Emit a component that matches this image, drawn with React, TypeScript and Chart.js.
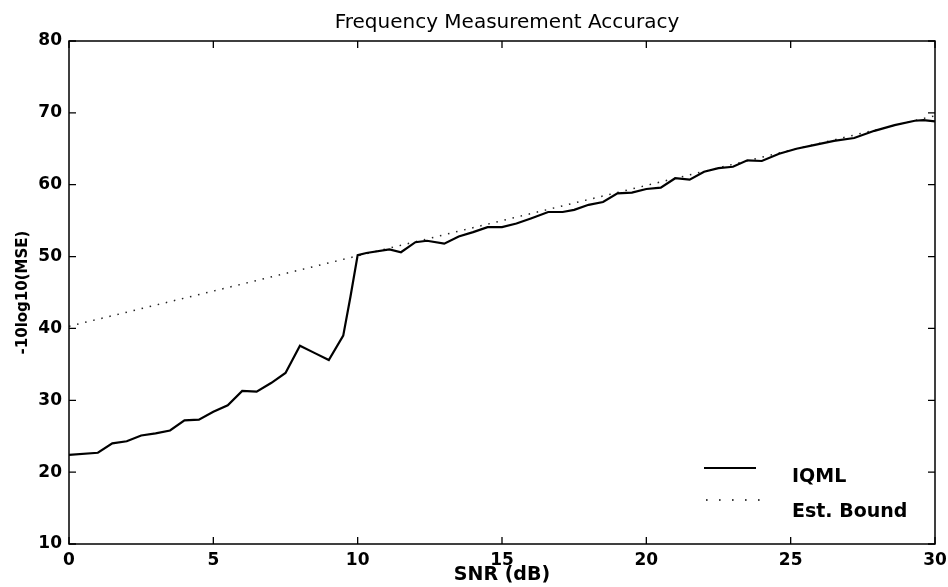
import React, { useEffect, useRef } from 'react';
import { Chart, registerables } from 'chart.js';

Chart.register(...registerables);

const TITLE = 'Frequency Measurement Accuracy';
const X_LABEL = 'SNR (dB)';
const Y_LABEL = '-10log10(MSE)';
const SERIES_NAMES = ['IQML', 'Est. Bound'];
const X_TICKS = [0, 5, 10, 15, 20, 25, 30];
const Y_TICKS = [10, 20, 30, 40, 50, 60, 70, 80];

const IQML_SNR = [
  0, 1.0, 1.5, 2.0, 2.5, 3.0, 3.5, 4.0, 4.5, 5.0, 5.5, 6.0, 6.5, 7.0, 7.5, 8.0, 8.5, 9.0, 9.5, 9.75,
  10.0, 10.3, 11.1, 11.5, 12.0, 12.4, 13.0, 13.5, 14.0, 14.5, 15.0, 15.5, 16.0, 16.6, 17.1, 17.5,
  18.0, 18.5, 19.0, 19.5, 20.0, 20.5, 21.0, 21.5, 22.0, 22.5, 23.0, 23.5, 24.0, 24.6, 25.2, 25.8,
  26.5, 27.2, 27.9, 28.6, 29.3, 29.6, 30.0,
];
const IQML_VAL = [
  22.4, 22.7, 24.0, 24.3, 25.1, 25.4, 25.8, 27.2, 27.3, 28.4, 29.3, 31.3, 31.2, 32.4, 33.8, 37.6, 36.6, 35.6, 39.0, 44.4,
  50.2, 50.5, 51.0, 50.6, 52.0, 52.2, 51.8, 52.8, 53.4, 54.1, 54.1, 54.6, 55.3, 56.2, 56.2, 56.5,
  57.2, 57.6, 58.8, 58.9, 59.4, 59.6, 60.9, 60.7, 61.8, 62.3, 62.5, 63.4, 63.3, 64.3, 65.0, 65.5,
  66.1, 66.5, 67.5, 68.3, 68.9, 69.0, 68.8,
];

const BOUND_SNR = [0, 5, 10, 15, 20, 25, 30];
const BOUND_VAL = [40.3, 45.2, 50.1, 55.0, 59.9, 64.8, 69.6];

const FONT = 'DejaVu Sans';

const framePlugin = {
  id: 'matlabFrame',
  afterDatasetsDraw(chart: any) {
    const { ctx, chartArea } = chart;
    const { left, right, top, bottom } = chartArea;
    const xs = chart.scales.x;
    const ys = chart.scales.y;
    const tl = 7;
    ctx.save();
    ctx.strokeStyle = '#000';
    ctx.lineWidth = 1.5;
    ctx.strokeRect(left, top, right - left, bottom - top);
    ctx.lineWidth = 1.3;
    ctx.beginPath();
    X_TICKS.forEach((v) => {
      const px = xs.getPixelForValue(v);
      ctx.moveTo(px, bottom);
      ctx.lineTo(px, bottom - tl);
      ctx.moveTo(px, top);
      ctx.lineTo(px, top + tl);
    });
    Y_TICKS.forEach((v) => {
      const py = ys.getPixelForValue(v);
      ctx.moveTo(left, py);
      ctx.lineTo(left + tl, py);
      ctx.moveTo(right, py);
      ctx.lineTo(right - tl, py);
    });
    ctx.stroke();

    // title, centred over the plot box
    ctx.fillStyle = '#000';
    ctx.font = `20px "${FONT}"`;
    ctx.textAlign = 'center';
    ctx.textBaseline = 'alphabetic';
    ctx.fillText(TITLE, (left + right) / 2 + 5, 28);

    // legend
    ctx.font = `bold 19px "${FONT}"`;
    ctx.textAlign = 'left';
    ctx.lineWidth = 2;
    ctx.beginPath();
    ctx.moveTo(704, 468);
    ctx.lineTo(756, 468);
    ctx.stroke();
    ctx.fillText(SERIES_NAMES[0], 792, 482);
    ctx.lineWidth = 1.6;
    ctx.setLineDash([1.6, 11.4]);
    ctx.beginPath();
    ctx.moveTo(706, 500);
    ctx.lineTo(760, 500);
    ctx.stroke();
    ctx.setLineDash([]);
    ctx.fillText(SERIES_NAMES[1], 792, 517);
    ctx.restore();
  },
};

export default function App() {
  const canvasRef = useRef<HTMLCanvasElement | null>(null);

  useEffect(() => {
    if (!canvasRef.current) return;
    const chart = new Chart(canvasRef.current, {
      type: 'line',
      data: {
        datasets: [
          {
            label: SERIES_NAMES[0],
            data: IQML_SNR.map((x, i) => ({ x, y: IQML_VAL[i] })),
            borderColor: '#000',
            borderWidth: 2.2,
            pointRadius: 0,
            fill: false,
            tension: 0,
          },
          {
            label: SERIES_NAMES[1],
            data: BOUND_SNR.map((x, i) => ({ x, y: BOUND_VAL[i] })),
            borderColor: '#222',
            borderWidth: 1.5,
            borderDash: [1.5, 6.8],
            pointRadius: 0,
            fill: false,
            tension: 0,
          },
        ],
      },
      options: {
        responsive: false,
        animation: false,
        layout: { padding: { left: 0, right: 13, top: 41, bottom: 0 } },
        plugins: {
          legend: { display: false },
          tooltip: { enabled: false },
          title: { display: false },
        },
        scales: {
          x: {
            type: 'linear',
            min: 0,
            max: 30,
            afterBuildTicks: (s: any) => {
              s.ticks = X_TICKS.map((v) => ({ value: v }));
            },
            afterFit: (s: any) => {
              s.height = 43;
              s.paddingRight = 0;
              s.paddingLeft = 0;
            },
            grid: { display: false, drawTicks: false },
            border: { display: false },
            ticks: {
              color: '#000',
              font: { family: FONT, size: 17, weight: 'bold' },
              padding: 6,
              maxRotation: 0,
              autoSkip: false,
            },
            title: {
              display: true,
              text: X_LABEL,
              color: '#000',
              font: { family: FONT, size: 19, weight: 'bold' },
              padding: { top: 0, bottom: 0.5 },
            },
          },
          y: {
            type: 'linear',
            min: 10,
            max: 80,
            afterBuildTicks: (s: any) => {
              s.ticks = Y_TICKS.map((v) => ({ value: v }));
            },
            afterFit: (s: any) => {
              s.width = 69;
            },
            grid: { display: false, drawTicks: false },
            border: { display: false },
            ticks: {
              color: '#000',
              font: { family: FONT, size: 17, weight: 'bold' },
              padding: 7,
              autoSkip: false,
            },
            title: {
              display: true,
              text: Y_LABEL,
              color: '#000',
              font: { family: FONT, size: 15, weight: 'bold' },
              padding: { top: 14.5, bottom: 0 },
            },
          },
        },
      },
      plugins: [framePlugin],
    });
    return () => chart.destroy();
  }, []);

  return (
    <div style={{ position: 'absolute', left: 0, top: 0, width: 948, height: 587, background: '#fff' }}>
      <canvas ref={canvasRef} width={948} height={587} />
    </div>
  );
}
